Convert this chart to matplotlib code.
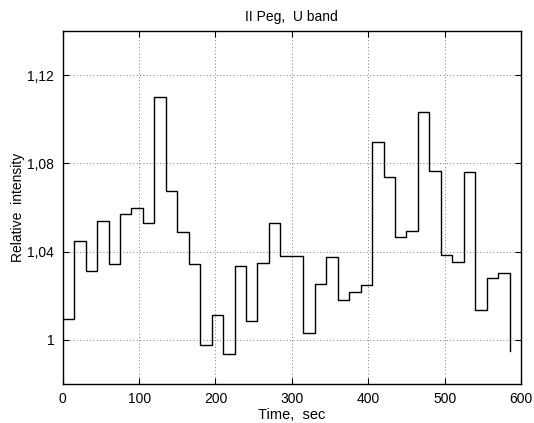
import matplotlib
matplotlib.use("Agg")
import matplotlib.pyplot as plt
from matplotlib.ticker import FixedLocator

plt.rcParams['font.family'] = ['Liberation Sans', 'DejaVu Sans']

time_s = [0, 15, 30, 45, 60, 75, 90, 105, 120, 135, 150, 165, 180, 195, 210,
          225, 240, 255, 270, 285, 300, 315, 330, 345, 360, 375, 390, 405,
          420, 435, 450, 465, 480, 495, 510, 525, 540, 555, 570, 585]
intensity = [1.0096, 1.0448, 1.0312, 1.0538, 1.0342, 1.0571, 1.0597, 1.0532,
             1.1103, 1.0677, 1.0488, 1.0342, 0.9976, 1.0113, 0.9934, 1.0337,
             1.0084, 1.0350, 1.0528, 1.0382, 1.0378, 1.0030, 1.0254, 1.0374,
             1.0179, 1.0218, 1.0248, 1.0898, 1.0737, 1.0466, 1.0494, 1.1031,
             1.0764, 1.0386, 1.0354, 1.0763, 1.0134, 1.0280, 1.0301, 0.9950]

xticks = [0, 100, 200, 300, 400, 500, 600]
yticks = [1.00, 1.04, 1.08, 1.12]
ytick_labels = ['1', '1,04', '1,08', '1,12']

fig = plt.figure(figsize=(5.34, 4.23), dpi=100)
ax = fig.add_axes([0.1174, 0.0922, 0.9757 - 0.1174, 0.9267 - 0.0922])

ax.step(time_s, intensity, where='post', color='black', linewidth=1.0)

ax.set_xlim(0, 600)
ax.set_ylim(0.98, 1.14)
ax.xaxis.set_major_locator(FixedLocator(xticks))
ax.set_xticklabels([str(t) for t in xticks])
ax.yaxis.set_major_locator(FixedLocator(yticks))
ax.set_yticklabels(ytick_labels)

ax.grid(True, linestyle=(0, (1, 3)), color='black', linewidth=0.6, alpha=0.7)
ax.tick_params(direction='in', top=True, right=True, length=4, width=0.8,
               labelsize=10, pad=6)
for sp in ax.spines.values():
    sp.set_linewidth(1.0)

ax.set_title('II Peg,  U band', fontsize=10, pad=7)
ax.set_xlabel('Time,  sec', fontsize=10.5, labelpad=1)
ax.set_ylabel('Relative  intensity', fontsize=10, labelpad=10)
ax.yaxis.set_label_coords(-0.083, 0.5)

fig.savefig('out.png', dpi=100)
